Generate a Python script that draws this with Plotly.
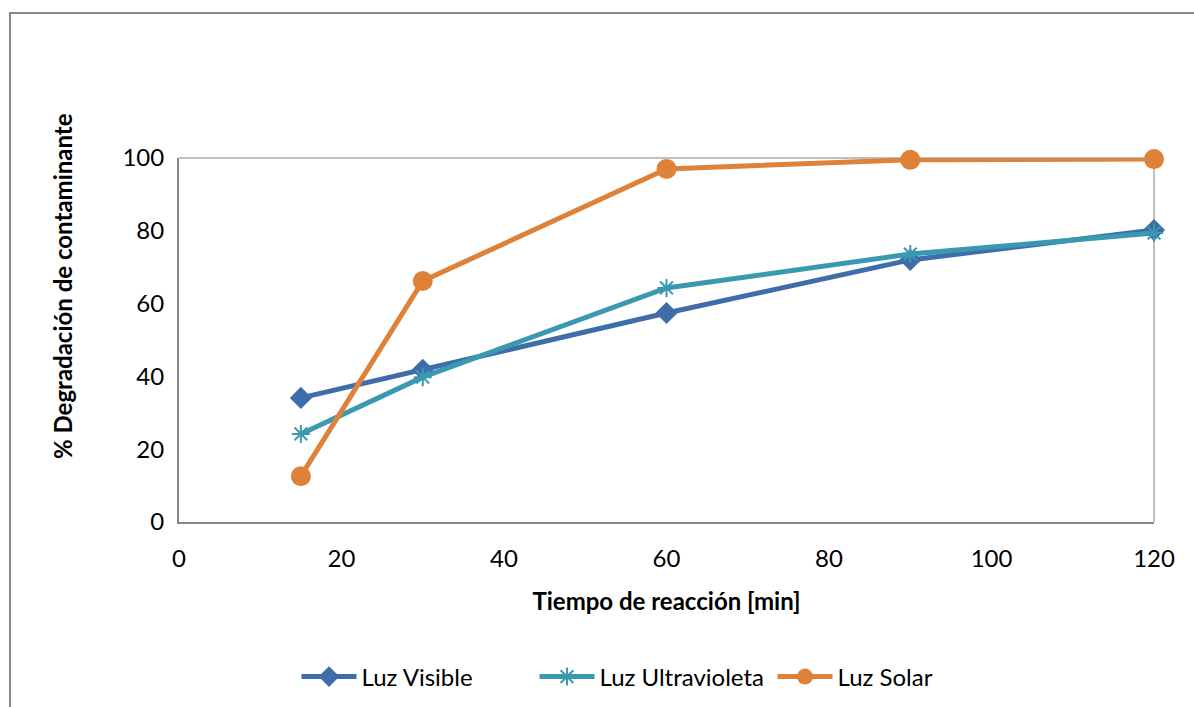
import plotly.graph_objects as go

# Reaction times (min)
tiempo = [15, 30, 60, 90, 120]

# Degradation (%) for each light source
luz_visible = [34.1, 41.8, 57.4, 72.0, 80.2]
luz_ultravioleta = [24.2, 39.8, 64.3, 73.6, 79.4]
luz_solar = [12.6, 66.2, 97.0, 99.5, 99.7]

x_ticks = [0, 20, 40, 60, 80, 100, 120]
y_ticks = [0, 20, 40, 60, 80, 100]

FONT = "Lato"
FS = 24

fig = go.Figure()
fig.add_trace(go.Scatter(
    x=tiempo, y=luz_visible, name="Luz Visible", mode="lines+markers",
    line=dict(color="#3F6DAA", width=5), cliponaxis=False,
    marker=dict(symbol="diamond", size=17, color="#3F6DAA"),
))
fig.add_trace(go.Scatter(
    x=tiempo, y=luz_ultravioleta, name="Luz Ultravioleta", mode="lines+markers",
    line=dict(color="#3A99B1", width=5), cliponaxis=False,
    marker=dict(symbol="asterisk-open", size=15, color="#3A99B1",
                line=dict(color="#3A99B1", width=2)),
))
fig.add_trace(go.Scatter(
    x=tiempo, y=luz_solar, name="Luz Solar", mode="lines+markers",
    line=dict(color="#DE8139", width=5), cliponaxis=False,
    marker=dict(symbol="circle", size=20, color="#DE8139"),
))

L, R, T, B = 179, 1154, 158, 522
W, H = 1194, 707
pw, ph = R - L, B - T

# outer chart frame (partly beyond the page edge)
fig.add_shape(type="rect", xref="paper", yref="paper",
              x0=(10 - L) / pw, x1=(W + 20 - L) / pw,
              y0=(B - (H + 20)) / ph, y1=(B - 13) / ph,
              line=dict(color="#888888", width=2), layer="below")
# plot area top and right borders
fig.add_shape(type="line", xref="paper", yref="paper", x0=0, x1=1, y0=1, y1=1,
              line=dict(color="#BFBFBF", width=2), layer="below")
fig.add_shape(type="line", xref="paper", yref="paper", x0=1, x1=1, y0=0, y1=1,
              line=dict(color="#BFBFBF", width=2), layer="below")

# vertical axis title
fig.add_annotation(text="<b>% Degradación de contaminante</b>", textangle=-90,
                   xref="paper", yref="paper", x=(62 - L) / pw, y=(B - 286) / ph,
                   xanchor="center", yanchor="middle", showarrow=False,
                   font=dict(family=FONT, size=FS, color="black"))

fig.update_layout(
    width=W, height=H,
    margin=dict(l=L, r=W - R, t=T, b=H - B, autoexpand=False),
    paper_bgcolor="white", plot_bgcolor="white",
    font=dict(family=FONT, size=FS, color="black"),
    showlegend=True,
    legend=dict(orientation="h", x=0.5 - 13 / pw, xanchor="center",
                y=(B - 677) / ph, yanchor="middle",
                font=dict(family=FONT, size=FS), itemwidth=55,
                entrywidth=168, entrywidthmode="pixels",
                traceorder="normal"),
    xaxis=dict(range=[0, 120], tickvals=x_ticks, showgrid=False,
               showline=True, linecolor="#868686", linewidth=2,
               ticks="", ticklabelstandoff=14, zeroline=False, automargin=False,
               title=dict(text="<b>Tiempo de reacción [min]</b>", standoff=22,
                          font=dict(family=FONT, size=FS))),
    yaxis=dict(range=[0, 100], tickvals=y_ticks, showgrid=False,
               showline=True, linecolor="#868686", linewidth=2,
               ticks="", ticklabelstandoff=8, zeroline=False, automargin=False),
)

fig.write_html("out.html")
